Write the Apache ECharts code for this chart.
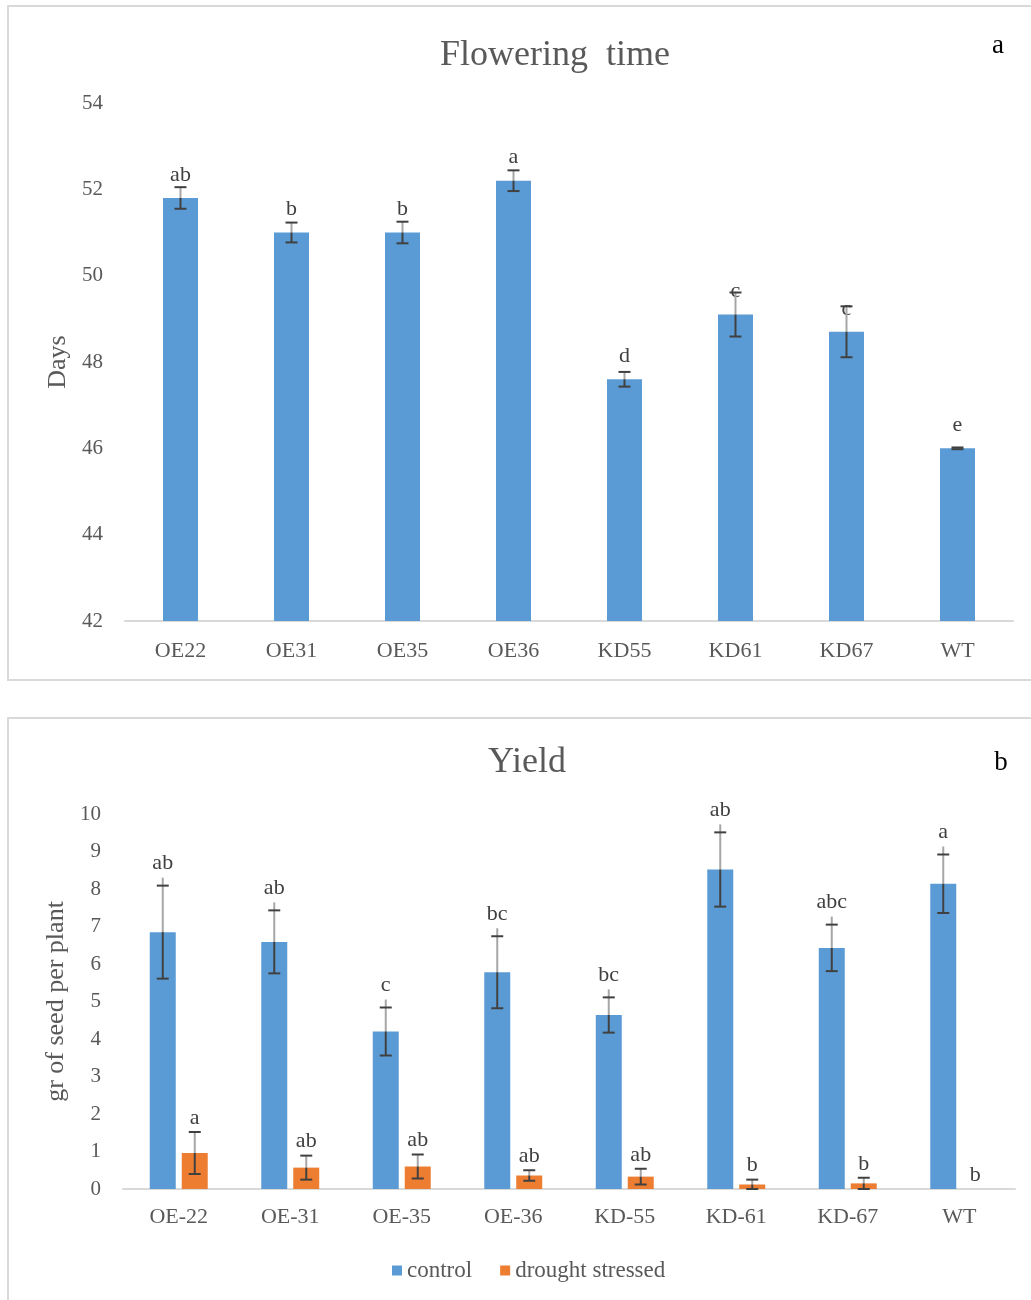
<!DOCTYPE html>
<html>
<head>
<meta charset="utf-8">
<script src="https://cdn.jsdelivr.net/npm/echarts@6/dist/echarts.min.js"></script>
<style>
  html, body { margin: 0; padding: 0; background: #fff; }
  #chart { width: 1031px; height: 1300px; }
</style>
</head>
<body>
<div id="chart"></div>
<script>
// Panel a: flowering time (days)
const flowerLines = ['OE22', 'OE31', 'OE35', 'OE36', 'KD55', 'KD61', 'KD67', 'WT'];
const flowerDays = [51.8, 51.0, 51.0, 52.2, 47.6, 49.1, 48.7, 46.0];
const flowerErr = [0.25, 0.23, 0.25, 0.24, 0.17, 0.51, 0.59, 0.02];
const flowerLetters = ['ab', 'b', 'b', 'a', 'd', 'c', 'c', 'e'];
const flowerTicks = [42, 44, 46, 48, 50, 52, 54];

// Panel b: seed yield (g per plant)
const yieldLines = ['OE-22', 'OE-31', 'OE-35', 'OE-36', 'KD-55', 'KD-61', 'KD-67', 'WT'];
const yieldControl = [6.85, 6.59, 4.2, 5.78, 4.64, 8.52, 6.43, 8.14];
const controlErr = [1.24, 0.84, 0.64, 0.96, 0.47, 0.99, 0.62, 0.78];
const controlLetters = ['ab', 'ab', 'c', 'bc', 'bc', 'ab', 'abc', 'a'];
const yieldDrought = [0.96, 0.57, 0.6, 0.36, 0.33, 0.12, 0.15, 0];
const droughtErr = [0.56, 0.32, 0.32, 0.14, 0.21, 0.13, 0.15, 0];
const droughtLetters = ['a', 'ab', 'ab', 'ab', 'ab', 'b', 'b', 'b'];
const yieldTicks = [0, 1, 2, 3, 4, 5, 6, 7, 8, 9, 10];

const BLUE = '#5b9bd5';
const ORANGE = '#ed7d31';
const TEXT = '#595959';
const DARK = '#404040';
const LIGHT = '#a6a6a6';
const SERIF = '"Liberation Serif", "Times New Roman", serif';

// Error bar renderer: light line above the bar top, dark line inside the bar, dark caps,
// and an optional significance letter above the upper cap.
function errorBars(offset, letters, letterGap, stub) {
  return function (params, api) {
    const i = api.value(0), v = api.value(1), e = api.value(2);
    const top = api.coord([i, v]);
    const hi = api.coord([i, v + e]);
    const lo = api.coord([i, Math.max(v - e, 0)]);
    const x = top[0] + offset;
    const half = 6;
    const children = [];
    if (e > 0) {
      children.push({ type: 'line', shape: { x1: x, y1: hi[1] - stub, x2: x, y2: top[1] },
        style: { stroke: LIGHT, lineWidth: 2 } });
      children.push({ type: 'line', shape: { x1: x, y1: top[1], x2: x, y2: lo[1] },
        style: { stroke: DARK, lineWidth: 2 } });
      children.push({ type: 'line', shape: { x1: x - half, y1: lo[1], x2: x + half, y2: lo[1] },
        style: { stroke: DARK, lineWidth: 2 } });
    }
    children.push({ type: 'line', shape: { x1: x - half, y1: hi[1], x2: x + half, y2: hi[1] },
      style: { stroke: DARK, lineWidth: 2, opacity: e > 0 || !letters ? 1 : 0 } });
    if (letters) {
      children.push({ type: 'text', style: { x: x, y: hi[1] - letterGap, text: letters[params.dataIndex],
        fill: DARK, font: '22px ' + SERIF, align: 'center', verticalAlign: 'middle' } });
    }
    return { type: 'group', children: children };
  };
}

const chart = echarts.init(document.getElementById('chart'), null, { renderer: 'canvas' });

const axisText = { color: TEXT, fontFamily: SERIF, fontSize: 22 };
const tickText = { color: TEXT, fontFamily: SERIF, fontSize: 21, margin: 22 };
const nameText = { color: TEXT, fontFamily: SERIF, fontSize: 26 };

chart.setOption({
  animation: false,
  backgroundColor: '#ffffff',
  graphic: [
    { type: 'rect', shape: { x: 8, y: 6, width: 1040, height: 674 },
      style: { fill: 'none', stroke: '#d9d9d9', lineWidth: 2 } },
    { type: 'rect', shape: { x: 8, y: 718, width: 1040, height: 600 },
      style: { fill: 'none', stroke: '#d9d9d9', lineWidth: 2 } },
    { type: 'text', style: { x: 555, y: 56, text: 'Flowering  time', fill: TEXT,
      font: '36px ' + SERIF, align: 'center', verticalAlign: 'middle' } },
    { type: 'text', style: { x: 998, y: 46, text: 'a', fill: '#000',
      font: '27px ' + SERIF, align: 'center', verticalAlign: 'middle' } },
    { type: 'text', style: { x: 527, y: 763, text: 'Yield', fill: TEXT,
      font: '36px ' + SERIF, align: 'center', verticalAlign: 'middle' } },
    { type: 'text', style: { x: 1001, y: 763, text: 'b', fill: '#000',
      font: '27px ' + SERIF, align: 'center', verticalAlign: 'middle' } }
  ],
  legend: {
    data: ['control', 'drought stressed'],
    left: 387, top: 1254,
    icon: 'rect', itemWidth: 10, itemHeight: 10, itemGap: 28,
    textStyle: { color: TEXT, fontFamily: SERIF, fontSize: 23 }
  },
  grid: [
    { left: 125, right: 18, top: 103, height: 518 },
    { left: 123, right: 16, top: 814, height: 375 }
  ],
  xAxis: [
    { type: 'category', gridIndex: 0, data: flowerLines,
      axisTick: { show: false },
      axisLine: { lineStyle: { color: '#d9d9d9', width: 2 } },
      axisLabel: Object.assign({ margin: 19 }, axisText) },
    { type: 'category', gridIndex: 1, data: yieldLines,
      axisTick: { show: false },
      axisLine: { lineStyle: { color: '#d9d9d9', width: 2 } },
      axisLabel: Object.assign({ margin: 17 }, axisText) }
  ],
  yAxis: [
    { type: 'value', gridIndex: 0, min: flowerTicks[0], max: flowerTicks[flowerTicks.length - 1], interval: 2,
      splitLine: { show: false }, axisLine: { show: false }, axisTick: { show: false },
      axisLabel: tickText,
      name: 'Days', nameLocation: 'middle', nameGap: 54, nameRotate: 90,
      nameTextStyle: nameText },
    { type: 'value', gridIndex: 1, min: yieldTicks[0], max: yieldTicks[yieldTicks.length - 1], interval: 1,
      splitLine: { show: false }, axisLine: { show: false }, axisTick: { show: false },
      axisLabel: tickText,
      name: 'gr of seed per plant', nameLocation: 'middle', nameGap: 54, nameRotate: 90,
      nameTextStyle: nameText }
  ],
  series: [
    { type: 'bar', name: 'days', xAxisIndex: 0, yAxisIndex: 0, data: flowerDays,
      barWidth: 35, itemStyle: { color: BLUE },
      label: { show: true, position: 'top', distance: 12, color: DARK, fontFamily: SERIF, fontSize: 22,
        formatter: p => flowerLetters[p.dataIndex] } },
    { type: 'custom', name: 'days error', xAxisIndex: 0, yAxisIndex: 0, z: 5,
      data: flowerDays.map((v, i) => [i, v, flowerErr[i]]),
      encode: { x: 0, y: 1 },
      renderItem: errorBars(0, null, 0, 0) },
    { type: 'bar', name: 'control', xAxisIndex: 1, yAxisIndex: 1, data: yieldControl,
      barWidth: 26, barGap: '23%', itemStyle: { color: BLUE } },
    { type: 'bar', name: 'drought stressed', xAxisIndex: 1, yAxisIndex: 1, data: yieldDrought,
      barWidth: 26, barGap: '23%', itemStyle: { color: ORANGE } },
    { type: 'custom', name: 'control error', xAxisIndex: 1, yAxisIndex: 1, z: 5,
      data: yieldControl.map((v, i) => [i, v, controlErr[i]]),
      encode: { x: 0, y: 1 },
      renderItem: errorBars(-16, controlLetters, 22, 8) },
    { type: 'custom', name: 'drought error', xAxisIndex: 1, yAxisIndex: 1, z: 5,
      data: yieldDrought.map((v, i) => [i, v, droughtErr[i]]),
      encode: { x: 0, y: 1 },
      renderItem: errorBars(16, droughtLetters, 14, 0) }
  ]
});
</script>
</body>
</html>
